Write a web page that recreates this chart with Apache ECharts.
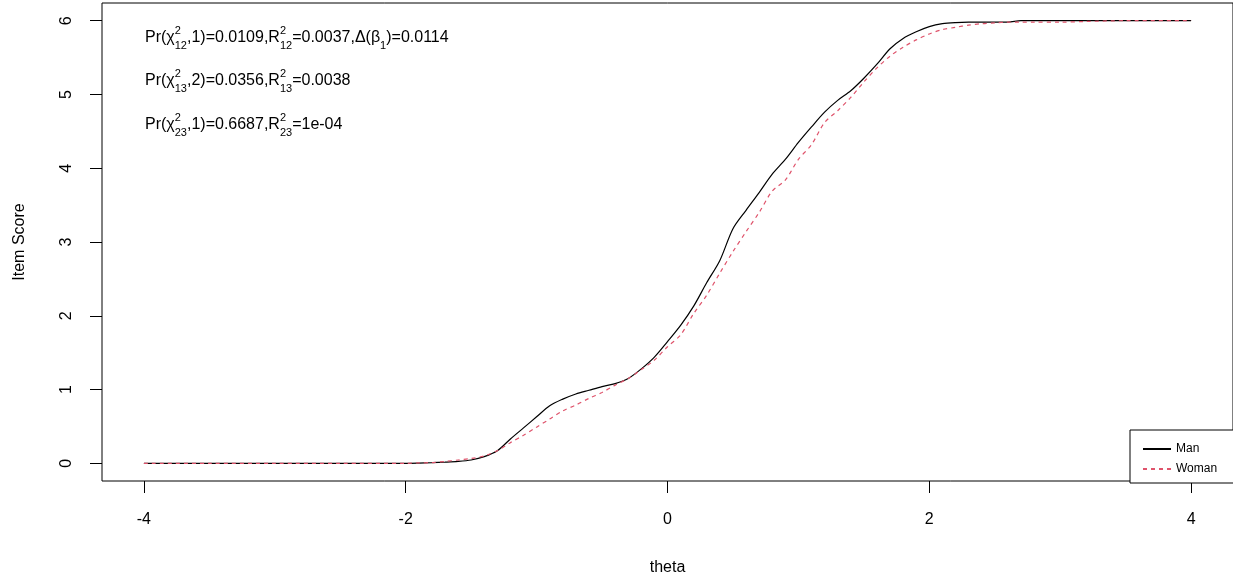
<!DOCTYPE html>
<html>
<head>
<meta charset="utf-8">
<script src="https://cdn.jsdelivr.net/npm/echarts@6/dist/echarts.min.js"></script>
<style>
html,body{margin:0;padding:0;background:#fff;}
#chart{width:1233px;height:581px;}
</style>
</head>
<body>
<div id="chart"></div>
<script>
// theta grid (x values)
const theta = [-4, -3.5, -3, -2.5, -2, -1.9, -1.8, -1.7, -1.6, -1.5, -1.4, -1.3, -1.2, -1.1, -1.0,
  -0.9, -0.8, -0.7, -0.6, -0.5, -0.4, -0.3, -0.2, -0.1, 0.0, 0.1, 0.2, 0.3, 0.4, 0.5,
  0.6, 0.7, 0.8, 0.9, 1.0, 1.1, 1.2, 1.3, 1.4, 1.5, 1.6, 1.7, 1.8, 1.9, 2.0,
  2.1, 2.2, 2.3, 2.4, 2.5, 2.6, 2.7, 2.8, 3.0, 3.2, 3.5, 4.0];
const manScore = [0, 0, 0, 0, 0, 0.003, 0.008, 0.015, 0.025, 0.045, 0.09, 0.17, 0.33, 0.48, 0.63,
  0.78, 0.87, 0.94, 0.99, 1.04, 1.08, 1.15, 1.28, 1.44, 1.65, 1.87, 2.13, 2.45, 2.75, 3.18,
  3.43, 3.67, 3.92, 4.12, 4.35, 4.56, 4.76, 4.92, 5.05, 5.22, 5.41, 5.62, 5.76, 5.85, 5.92,
  5.96, 5.975, 5.98, 5.98, 5.98, 5.98, 6.0, 6.0, 6.0, 6.0, 6.0, 6.0];
const womanScore = [0, 0, 0, 0, 0, 0.005, 0.01, 0.025, 0.045, 0.065, 0.1, 0.17, 0.28, 0.38, 0.49,
  0.60, 0.71, 0.79, 0.88, 0.96, 1.06, 1.15, 1.27, 1.40, 1.58, 1.74, 2.03, 2.28, 2.58, 2.87,
  3.14, 3.40, 3.69, 3.84, 4.12, 4.32, 4.62, 4.78, 4.96, 5.17, 5.36, 5.52, 5.64, 5.74, 5.82,
  5.88, 5.91, 5.94, 5.96, 5.97, 5.98, 5.98, 5.98, 5.98, 5.99, 6.0, 6.0];
const xTicks = [-4, -2, 0, 2, 4];
const yTicks = [0, 1, 2, 3, 4, 5, 6];
const seriesNames = ['Man', 'Woman'];

const FONT = 'Liberation Sans, Arial, sans-serif';
const chart = echarts.init(document.getElementById('chart'), null, {renderer: 'canvas'});

function pairs(xs, ys) { return xs.map((x, i) => [x, ys[i]]); }

const rich = {
  t: {fontSize: 16, fontFamily: FONT, color: '#000', lineHeight: 26},
  sup: {fontSize: 11, fontFamily: FONT, color: '#000', width: 0, verticalAlign: 'top', lineHeight: 13},
  sub: {fontSize: 11, fontFamily: FONT, color: '#000', verticalAlign: 'bottom', lineHeight: 13},
  sub1: {fontSize: 11, fontFamily: FONT, color: '#000', verticalAlign: 'bottom', lineHeight: 11}
};
const ann1 = '{t|Pr(χ}{sup|2}{sub|12}{t|,1)=0.0109,R}{sup|2}{sub|12}{t|=0.0037,Δ(β}{sub1|1}{t|)=0.0114}';
const ann2 = '{t|Pr(χ}{sup|2}{sub|13}{t|,2)=0.0356,R}{sup|2}{sub|13}{t|=0.0038}';
const ann3 = '{t|Pr(χ}{sup|2}{sub|23}{t|,1)=0.6687,R}{sup|2}{sub|23}{t|=1e-04}';

chart.setOption({
  animation: false,
  backgroundColor: '#fff',
  grid: {left: 102, top: 3, width: 1133, height: 478, show: true, borderColor: '#000', borderWidth: 1, backgroundColor: 'transparent'},
  xAxis: {
    type: 'value', min: -4.32, max: 4.32,
    axisLine: {show: false, onZero: false},
    splitLine: {show: false},
    axisTick: {show: true, inside: false, length: 12, lineStyle: {color: '#000'}, customValues: xTicks},
    axisLabel: {customValues: xTicks, margin: 31, fontSize: 16, fontFamily: FONT, color: '#000'},
    name: 'theta', nameLocation: 'middle', nameGap: 79,
    nameTextStyle: {fontSize: 16, fontFamily: FONT, color: '#000'}
  },
  yAxis: {
    type: 'value', min: -0.24, max: 6.24,
    axisLine: {show: false, onZero: false},
    splitLine: {show: false},
    axisTick: {show: true, inside: false, length: 12, lineStyle: {color: '#000'}, customValues: yTicks},
    axisLabel: {customValues: yTicks, rotate: 90, margin: 27, fontSize: 16, fontFamily: FONT, color: '#000'},
    name: 'Item Score', nameLocation: 'middle', nameGap: 74, nameRotate: 90,
    nameTextStyle: {fontSize: 16, fontFamily: FONT, color: '#000'}
  },
  legend: {
    data: seriesNames,
    orient: 'vertical', left: 1130, top: 430,
    padding: [13, 40, 8, 12],
    itemWidth: 28, itemHeight: 14, itemGap: 8,
    borderColor: '#000', borderWidth: 1, backgroundColor: '#fff',
    itemStyle: {opacity: 0},
    textStyle: {fontSize: 12, fontFamily: FONT, color: '#000'}
  },
  graphic: [
    {type: 'text', left: 145, top: 25, style: {text: ann1, rich: rich}},
    {type: 'text', left: 145, top: 68, style: {text: ann2, rich: rich}},
    {type: 'text', left: 145, top: 112, style: {text: ann3, rich: rich}}
  ],
  series: [
    {name: seriesNames[0], type: 'line', data: pairs(theta, manScore), symbol: 'none', smooth: 0.3,
      lineStyle: {color: '#000', width: 1.2, type: 'solid'}, itemStyle: {color: '#000'}},
    {name: seriesNames[1], type: 'line', data: pairs(theta, womanScore), symbol: 'none', smooth: 0.3,
      lineStyle: {color: '#DF536B', width: 1.2, type: [4, 4]}, itemStyle: {color: '#DF536B'}}
  ]
});
</script>
</body>
</html>
